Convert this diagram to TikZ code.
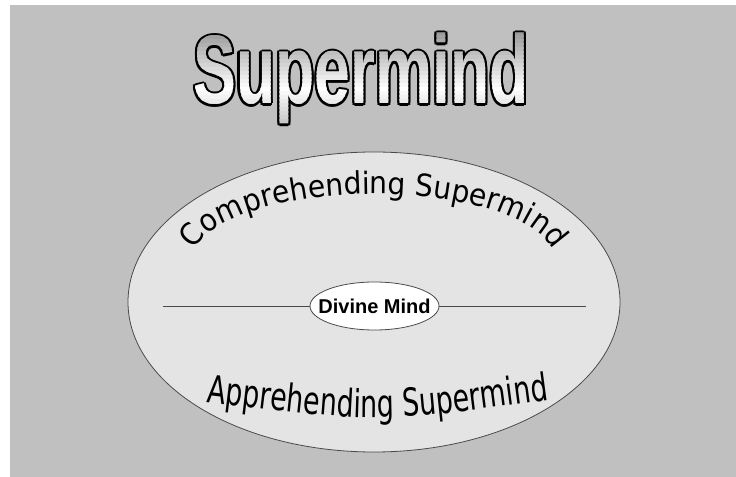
\documentclass[tikz,border=0pt]{standalone}
\usepackage{fontspec}
\setmainfont{Liberation Sans}
\newfontfamily\titlefont[FakeStretch=0.66]{Liberation Sans}
\newfontfamily\arcfont[FakeStretch=0.92]{DejaVu Sans}
\newfontfamily\lowfont[FakeStretch=0.70]{DejaVu Sans}
\usepackage{tikz}
\usetikzlibrary{shapes.geometric,decorations.text}
\definecolor{bggray}{HTML}{C0C0C0}
\definecolor{ovalgray}{HTML}{E4E4E4}
\definecolor{linegray}{HTML}{4A4A4A}

\begin{document}
\begin{tikzpicture}[x=0.75pt, y=-0.75pt]
\tikzstyle{oval}=[ellipse, draw=linegray, line width=0.6pt, inner sep=0pt]
\tikzstyle{titletext}=[font=\titlefont\bfseries\fontsize{73}{80}\selectfont, inner sep=0pt, anchor=base]
\useasboundingbox (0,0) rectangle (736,477);
\fill[white] (0,0) rectangle (736,477);
\fill[bggray] (10,5) rectangle (736,477);
% title: black rim first, then the fill cut in thin strips
\foreach \a [count=\i] in {0,30,...,330}
  \node[titletext, text=black, shift={(\a:1.6pt)}] (rim\i) at (361,104) {Supermind};
\foreach \y [count=\i] in {24,28,...,132} {
  \pgfmathsetmacro{\tone}{\y<88 ? 42*(88-\y)/60 : 26*(\y-88)/40}
  \begin{scope}
    \clip (150,\y) rectangle (580,\y+4.2);
    \node[titletext, text=black!\tone] (strip\i) at (361,104) {Supermind};
  \end{scope}
}
\node[oval, fill=ovalgray, minimum width=369pt, minimum height=225pt] (outer) at (374,302) {};
\node[oval, fill=white, inner xsep=-8pt, minimum width=96.75pt, minimum height=36pt, font=\bfseries\fontsize{15}{18}\selectfont] (divine) at (374.5,306) {Divine Mind};
\coordinate (lineleft) at (163,306);
\coordinate (lineright) at (586,306);
\draw[linegray, line width=0.6pt] (lineleft) -- (divine.west);
\draw[linegray, line width=0.6pt] (divine.east) -- (lineright);
\path[decorate, decoration={text along path, text align=center,
  text={|\arcfont\fontsize{23}{28}\selectfont|Comprehending Supermind}}]
  (192,262) arc[start angle=180, end angle=360, x radius=182, y radius=68];
\path[decorate, decoration={text along path, text align=center,
  text={|\lowfont\fontsize{28.8}{34}\selectfont|Apprehending Supermind}}]
  (205,402) .. controls (377,423) .. (550,400);
\end{tikzpicture}
\end{document}
